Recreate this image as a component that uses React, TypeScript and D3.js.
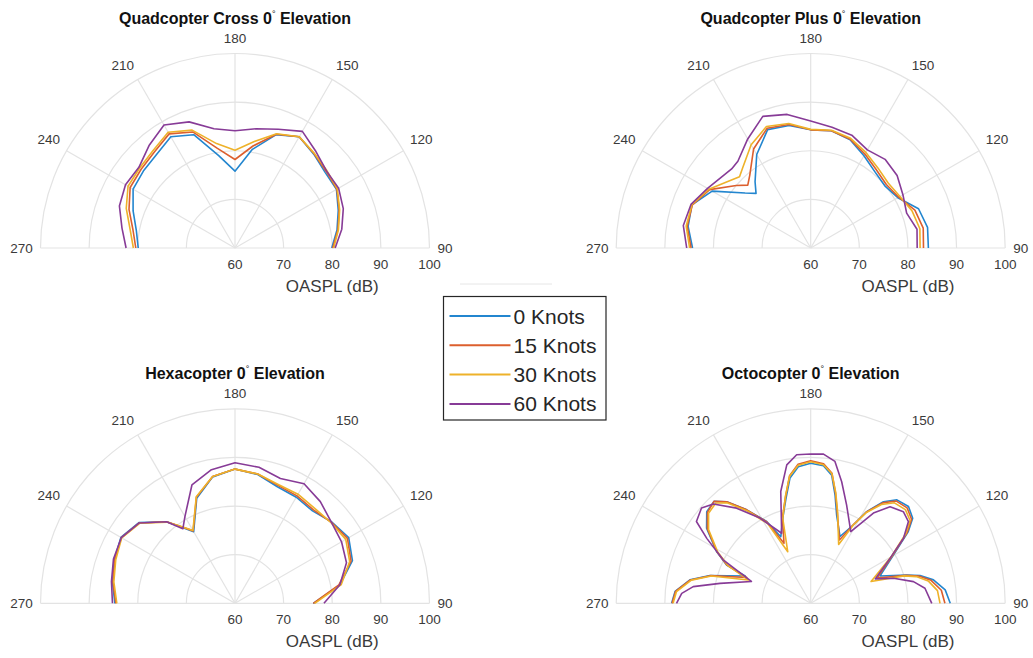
import { useRef, useEffect } from "react";
import * as d3 from "d3";

const seriesLabels = ["0 Knots", "15 Knots", "30 Knots", "60 Knots"];
const seriesColors = ["#2386cf", "#dc5f2e", "#eeb22a", "#873b97"];

const thetaTicks = [90, 120, 150, 180, 210, 240, 270];
const rTicks = [60, 70, 80, 90, 100];

// Quadcopter Cross (angle grid shared by all four speeds)
const crossAngles = [90, 100, 110, 120, 130, 140, 150, 160, 170, 180, 190, 200, 210, 220, 230, 240, 250, 260, 270];
const cross0 = [79.9, 81.3, 82.6, 84.1, 84.2, 85.2, 86.4, 84.8, 80.6, 75.8, 79.3, 84.8, 86.4, 85.1, 84.6, 84.2, 82.3, 80.6, 79.9];
const cross15 = [80.1, 81.5, 82.8, 84.2, 84.5, 85.3, 86.4, 84.9, 81.3, 78.2, 80.8, 85.4, 87.1, 85.8, 85.2, 84.9, 83.2, 81.3, 80.4];
const cross30 = [80.3, 81.6, 82.9, 84.3, 84.7, 85.4, 86.4, 85.0, 82.2, 80.1, 81.8, 85.8, 87.5, 86.2, 85.6, 85.4, 83.8, 81.9, 80.9];
const cross60 = [80.6, 82.3, 83.7, 84.6, 84.6, 85.9, 87.7, 86.0, 84.9, 84.1, 84.9, 87.6, 89.2, 87.5, 85.8, 86.0, 85.3, 83.6, 82.4];

// Quadcopter Plus
const plusAngles = [90, 100, 110, 120, 130, 140, 150, 160, 170, 180, 190, 200, 210, 220, 225, 230, 240, 250, 260, 270];
const plus0 = [84.2, 84.4, 83.6, 80.7, 79.9, 80.5, 81.9, 83.7, 84.5, 84.3, 85.6, 85.9, 82.2, 77.8, 75.9, 77.6, 83.4, 86.0, 85.6, 84.3];
const plus15 = [83.2, 83.5, 82.8, 80.9, 80.3, 81.0, 82.3, 83.8, 84.5, 84.3, 85.8, 86.2, 83.5, 79.5, 78.3, 80.0, 84.0, 85.9, 85.8, 84.6];
const plus30 = [82.5, 82.8, 82.2, 81.2, 80.8, 81.5, 82.7, 84.0, 84.6, 84.4, 86.0, 86.6, 84.5, 81.7, 80.7, 81.6, 84.2, 86.0, 86.0, 84.9];
const plus60 = [81.9, 82.2, 81.0, 81.9, 83.2, 83.8, 83.3, 84.7, 85.2, 86.1, 87.9, 88.8, 85.9, 83.3, 83.0, 83.3, 84.5, 86.2, 86.6, 85.5];

// Hexacopter
const hexAngles = [90, 100, 110, 120, 130, 140, 150, 160, 170, 180, 190, 200, 210, 215, 220, 230, 240, 250, 260, 270];
const hex0 = [76.1, 81.9, 85.7, 87.0, 86.0, 84.8, 85.2, 85.5, 86.9, 87.6, 86.4, 83.0, 77.0, 79.1, 81.9, 85.8, 87.1, 86.4, 85.6, 84.7];
const hex15 = [76.1, 81.7, 85.4, 86.7, 85.9, 85.1, 85.5, 85.8, 87.0, 87.6, 86.5, 83.2, 77.2, 79.2, 81.9, 85.7, 87.0, 86.3, 85.5, 84.5];
const hex30 = [76.4, 82.2, 85.1, 86.3, 85.8, 85.5, 85.9, 86.0, 87.0, 87.6, 86.5, 83.3, 77.3, 79.3, 81.8, 85.6, 86.9, 86.1, 85.3, 84.3];
const hex60 = [78.3, 81.9, 84.4, 85.3, 85.9, 87.3, 88.4, 87.3, 88.4, 88.9, 87.9, 85.9, 80.6, 78.7, 81.9, 85.7, 87.0, 86.6, 85.8, 85.2];

// Octocopter: [angle, dB] pairs, notch angles differ per speed
const octo0: [number, number][] = [
  [90, 88.7], [95.7, 87.8], [100.8, 85.7], [104.2, 83.2], [106.4, 80.6], [111.5, 75.3], [120.3, 79.7],
  [126.3, 84.9], [129.8, 87.3], [134.7, 88.3], [140.2, 87.7], [144.4, 85.7], [148.6, 82.1], [151.4, 78.4],
  [156.3, 75.0], [163.6, 78.9], [167.3, 82.8], [170.7, 86.7], [174.7, 88.4], [180, 88.8], [185.2, 88.2],
  [189.4, 86.1], [193.2, 82.2], [198.2, 78.4], [204.2, 75.0], [208.3, 79.1], [214.4, 83.3], [219.6, 87.1],
  [223.4, 88.9], [228.6, 88.5], [234.2, 86.4], [241.2, 82.1], [245.5, 79.0], [247.4, 74.6], [254.6, 81.5],
  [259, 85.3], [265, 88.0], [270, 88.6],
];
const octo15: [number, number][] = [
  [90, 87.6], [95.7, 87.0], [100.8, 85.2], [104.2, 82.9], [106.4, 80.4], [110.8, 74.6], [120.3, 79.5],
  [126.3, 84.6], [129.8, 87.0], [134.7, 87.9], [140.2, 87.4], [144.4, 85.4], [148.6, 82.0], [151.4, 78.5],
  [155.6, 74.3], [163.6, 79.4], [167.3, 83.2], [170.7, 87.1], [174.7, 88.8], [180, 89.3], [185.2, 88.7],
  [189.4, 86.6], [193.2, 82.6], [198.2, 78.6], [204, 73.5], [208.3, 79.0], [214.4, 83.3], [219.6, 87.1],
  [223.4, 88.9], [228.6, 88.3], [234.2, 86.2], [241.2, 82.0], [245.5, 78.9], [248.1, 74.2], [254.6, 81.4],
  [259, 85.2], [265, 87.9], [270, 88.5],
];
const octo30: [number, number][] = [
  [90, 86.6], [95.7, 86.2], [100.8, 84.6], [104.2, 82.4], [106.4, 80.0], [109.8, 73.2], [120.3, 79.3],
  [126.3, 84.3], [129.8, 86.6], [134.7, 87.4], [140.2, 86.9], [144.4, 85.0], [148.6, 81.8], [151.4, 78.4],
  [154.6, 73.4], [163.6, 79.6], [167.3, 83.4], [170.7, 87.0], [174.7, 88.6], [180, 89.1], [185.2, 88.5],
  [189.4, 86.5], [193.2, 82.7], [198.2, 78.4], [204, 71.6], [208.3, 78.6], [214.4, 83.0], [219.6, 86.8],
  [223.4, 88.4], [228.6, 88.0], [234.2, 85.9], [241.2, 81.8], [245.5, 78.7], [249.5, 73.7], [254.6, 81.2],
  [259, 85.0], [265, 87.7], [270, 88.3],
];
const octo60: [number, number][] = [
  [90, 84.9], [97.5, 83.7], [101.9, 81.6], [106.8, 77.8], [110.7, 74.2], [119.6, 78.8], [125, 83.3],
  [129.9, 86.2], [134.7, 86.8], [140.6, 85.7], [145.2, 82.6], [150.8, 76.9], [159.9, 81.5], [165.7, 85.8],
  [170.3, 89.6], [175.1, 90.8], [180, 90.7], [185.4, 90.7], [189.8, 88.9], [195, 83.8], [202.5, 75.6],
  [210.8, 80.4], [217.9, 84.8], [224.4, 88.6], [228.9, 89.8], [234.4, 88.9], [238, 85.2], [243.6, 80.1],
  [249.8, 73.0], [257.6, 79.1], [261.9, 84.4], [265.6, 86.6], [270, 87.6],
];

const W = 1033;
const H = 658;
const R = 194.5;
const FONT = "Helvetica, Arial, 'Liberation Sans', sans-serif";

const panels = [
  {
    title: "Quadcopter Cross 0",
    cx: 235,
    cy: 248,
    series: [cross0, cross15, cross30, cross60].map((v) => d3.zip(crossAngles, v) as [number, number][]),
  },
  {
    title: "Quadcopter Plus 0",
    cx: 810.7,
    cy: 248,
    series: [plus0, plus15, plus30, plus60].map((v) => d3.zip(plusAngles, v) as [number, number][]),
  },
  {
    title: "Hexacopter 0",
    cx: 235,
    cy: 603.3,
    series: [hex0, hex15, hex30, hex60].map((v) => d3.zip(hexAngles, v) as [number, number][]),
  },
  {
    title: "Octocopter 0",
    cx: 810.7,
    cy: 603.3,
    series: [octo0, octo15, octo30, octo60],
  },
];

export default function App() {
  const svgRef = useRef<SVGSVGElement>(null);

  useEffect(() => {
    if (!svgRef.current) return;
    const svg = d3.select(svgRef.current);
    svg.selectAll("*").remove();

    const r = d3.scaleLinear().domain([60, 100]).range([0, R]);
    const rad = (deg: number) => (deg * Math.PI) / 180;

    const line = d3
      .lineRadial<[number, number]>()
      .angle((d) => rad(180 - d[0]))
      .radius((d) => r(d[1]));

    panels.forEach((p) => {
      const g = svg.append("g").attr("transform", `translate(${p.cx},${p.cy})`);

      // Grid arcs
      rTicks.slice(1).forEach((v) => {
        const path = d3.path();
        path.moveTo(-r(v), 0);
        path.arc(0, 0, r(v), Math.PI, 2 * Math.PI);
        g.append("path")
          .attr("d", path.toString())
          .attr("fill", "none")
          .attr("stroke", "#e3e3e3")
          .attr("stroke-width", 1.2);
      });

      // Spokes
      g.append("g")
        .selectAll("line")
        .data(thetaTicks)
        .join("line")
        .attr("x1", 0)
        .attr("y1", 0)
        .attr("x2", (d) => R * Math.sin(rad(d)))
        .attr("y2", (d) => R * Math.cos(rad(d)))
        .attr("stroke", "#e3e3e3")
        .attr("stroke-width", 1.2);

      // Theta labels
      g.append("g")
        .selectAll("text")
        .data(thetaTicks)
        .join("text")
        .attr("x", (d) => {
          const sx = Math.sin(rad(d));
          const halfW = String(d).length === 3 ? 11 : 7.5;
          const off = Math.abs(sx) > 0.1 ? Math.sign(sx) * halfW : 0;
          return (R + 8) * sx + off;
        })
        .attr("y", (d) => {
          const cy = Math.cos(rad(d));
          const off = cy < -0.1 ? -7 : 0;
          return (R + 8) * cy + off;
        })
        .attr("text-anchor", "middle")
        .attr("dominant-baseline", "central")
        .attr("fill", "#3a3a3a")
        .attr("font-size", "13.5px")
        .attr("font-family", FONT)
        .text((d) => d);

      // R tick labels
      g.append("g")
        .selectAll("text")
        .data(rTicks)
        .join("text")
        .attr("x", (d) => r(d))
        .attr("y", 16)
        .attr("text-anchor", "middle")
        .attr("dominant-baseline", "central")
        .attr("fill", "#3a3a3a")
        .attr("font-size", "13.5px")
        .attr("font-family", FONT)
        .text((d) => d);

      g.append("text")
        .attr("x", R / 2)
        .attr("y", 38)
        .attr("text-anchor", "middle")
        .attr("dominant-baseline", "central")
        .attr("fill", "#3a3a3a")
        .attr("font-size", "17px")
        .attr("font-family", FONT)
        .text("OASPL (dB)");

      // Series
      p.series.forEach((s, i) => {
        g.append("path")
          .datum(s)
          .attr("d", line)
          .attr("fill", "none")
          .attr("stroke", seriesColors[i])
          .attr("stroke-width", 1.6)
          .attr("stroke-linejoin", "round");
      });

      // Title
      const t = g
        .append("text")
        .attr("x", 0)
        .attr("y", -224)
        .attr("text-anchor", "middle")
        .attr("fill", "#111")
        .attr("font-size", "16px")
        .attr("font-weight", "bold")
        .attr("font-family", FONT);
      t.append("tspan").text(p.title);
      t.append("tspan").attr("dy", -7).attr("font-size", "9px").attr("font-weight", "normal").text("°");
      t.append("tspan").attr("dy", 7).text(" Elevation");
    });

    // faint separator above legend
    svg
      .append("line")
      .attr("x1", 460)
      .attr("x2", 552)
      .attr("y1", 284)
      .attr("y2", 284)
      .attr("stroke", "#e6e6e6")
      .attr("stroke-width", 1);

    // Legend
    const lg = svg.append("g").attr("transform", "translate(443.5,296.5)");
    lg.append("rect")
      .attr("width", 162.5)
      .attr("height", 123.5)
      .attr("fill", "#fff")
      .attr("stroke", "#262626")
      .attr("stroke-width", 1.2);
    const rows = lg
      .selectAll("g.row")
      .data(seriesLabels)
      .join("g")
      .attr("class", "row")
      .attr("transform", (_, i) => `translate(0,${19.5 + i * 29.3})`);
    rows
      .append("line")
      .attr("x1", 6)
      .attr("x2", 67)
      .attr("stroke", (_, i) => seriesColors[i])
      .attr("stroke-width", 2);
    rows
      .append("text")
      .attr("x", 70)
      .attr("dominant-baseline", "central")
      .attr("fill", "#262626")
      .attr("font-size", "21px")
      .attr("font-family", FONT)
      .text((d) => d);
  }, []);

  return (
    <svg
      ref={svgRef}
      width={W}
      height={H}
      style={{ position: "absolute", left: 0, top: 0, background: "#fff" }}
    />
  );
}
